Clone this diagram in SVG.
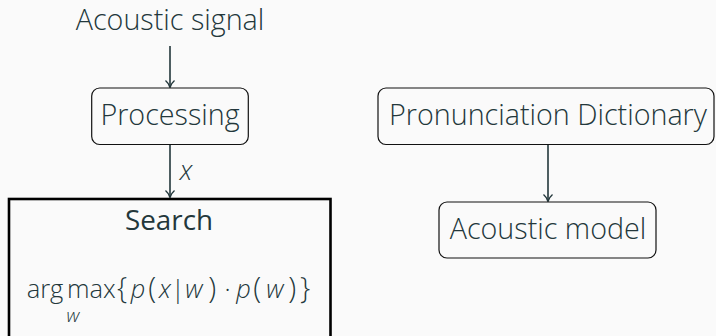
<svg xmlns="http://www.w3.org/2000/svg" width="716" height="336" viewBox="0 0 716 336">
  <style>
    .bg { fill: #FAFAFA; }
    .lbl { font-family: "Open Sans", "Noto Sans", sans-serif; font-weight: 300; fill: #23373B; font-size: 28.7px; text-anchor: middle; }
    .title { font-family: "Open Sans", "Noto Sans", sans-serif; font-weight: 400; fill: #23373B; font-size: 27.8px; text-anchor: middle; }
    .math { font-family: "Open Sans", "Noto Sans", sans-serif; font-weight: 300; fill: #23373B; font-size: 25.5px; text-anchor: middle; }
    .it { font-style: italic; }
    .fence { font-size: 29px; }
    .node { fill: none; stroke: #111; stroke-width: 1.2; }
    .block { fill: none; stroke: #000; stroke-width: 2.6; }
    .edge { stroke: #23373B; stroke-width: 1.6; fill: none; marker-end: url(#arrow); }
  </style>
  <defs>
    <marker id="arrow" markerWidth="12" markerHeight="10" refX="10" refY="5" orient="auto" markerUnits="userSpaceOnUse">
      <path d="M3,0.5 Q6,4 10,5 Q6,6 3,9.5" fill="none" stroke="#23373B" stroke-width="1.4"/>
    </marker>
  </defs>
  <rect class="bg" x="0" y="0" width="716" height="336"/>

  <g id="connectors">
    <line class="edge" x1="170" y1="46" x2="170" y2="87.5"/>
    <line class="edge" x1="170" y1="144.5" x2="170" y2="197.5"/>
    <text class="math it" x="186" y="180" style="font-size:27px">x</text>
    <line class="edge" x1="548" y1="144.5" x2="548" y2="201.5"/>
  </g>

  <g id="signal">
    <text class="lbl" x="170" y="30">Acoustic signal</text>
  </g>

  <g id="processing">
    <rect class="node" x="91.7" y="88" width="156.6" height="56.5" rx="8"/>
    <text class="lbl" x="170" y="125">Processing</text>
  </g>

  <g id="search">
    <rect class="block" x="9" y="199" width="321.5" height="145"/>
    <text class="title" x="169" y="230">Search</text>
    <!-- argmax over w of p(x|w)·p(w); one anchored chunk per symbol -->
    <text class="math" y="298"><tspan x="45">arg</tspan><tspan x="91.3">max</tspan><tspan x="122" class="fence">{</tspan><tspan x="138" class="it">p</tspan><tspan x="152.3" class="fence">(</tspan><tspan x="165" class="it">x</tspan><tspan x="177.8">|</tspan><tspan x="193.8" class="it">w</tspan><tspan x="212.3" class="fence">)</tspan><tspan x="227.5">·</tspan><tspan x="243.6" class="it">p</tspan><tspan x="257.3" class="fence">(</tspan><tspan x="274.8" class="it">w</tspan><tspan x="292.3" class="fence">)</tspan><tspan x="305" class="fence">}</tspan></text>
    <text class="math it" x="73" y="322" style="font-size:19px">w</text>
  </g>

  <g id="dictionary">
    <rect class="node" x="378" y="88" width="336" height="56.5" rx="8"/>
    <text class="lbl" x="548" y="125">Pronunciation Dictionary</text>
  </g>

  <g id="acoustic-model">
    <rect class="node" x="439" y="202" width="217" height="56" rx="8"/>
    <text class="lbl" x="548" y="239">Acoustic model</text>
  </g>
</svg>
